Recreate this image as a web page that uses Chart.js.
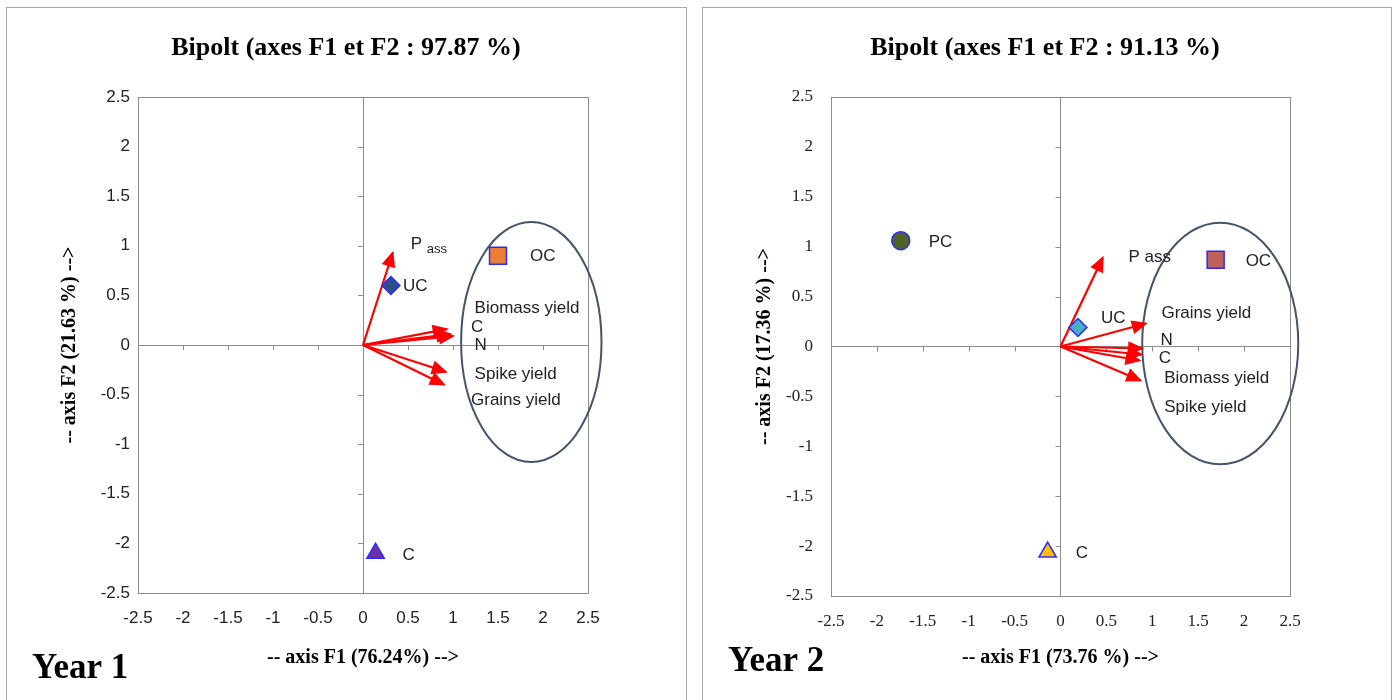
<!DOCTYPE html>
<html>
<head>
<meta charset="utf-8">
<script src="https://cdn.jsdelivr.net/npm/chart.js@4.4.0/dist/chart.umd.min.js"></script>
<style>
  body { margin: 0; background: #fff; width: 1394px; height: 700px; overflow: hidden; position: relative; }
  .frame { position: absolute; top: 7px; height: 730px; border: 1.5px solid #a8a8a8; box-sizing: border-box; }
  canvas { position: absolute; }
</style>
</head>
<body>
<div class="frame" style="left:6px;width:681px"></div>
<div class="frame" style="left:702px;width:690px"></div>
<canvas id="chart1" width="678" height="692" style="left:7px;top:8px"></canvas>
<canvas id="chart2" width="687" height="692" style="left:703px;top:8px"></canvas>
<script>
// shared axis ticks
var axisTicks = [-2.5, -2, -1.5, -1, -0.5, 0, 0.5, 1, 1.5, 2, 2.5];

// Year 1 - observations (F1, F2)
var obs1Names = ["OC", "UC", "C"];
var obs1F1 = [1.5, 0.31, 0.14];
var obs1F2 = [0.9, 0.6, -2.1];
// Year 1 - variables (arrow tips)
var var1Names = ["P ass", "Biomass yield", "C", "N", "Spike yield", "Grains yield"];
var var1F1 = [0.33, 0.93, 1.0, 0.97, 0.92, 0.9];
var var1F2 = [0.93, 0.16, 0.09, 0.11, -0.27, -0.4];

// Year 2 - observations
var obs2Names = ["PC", "OC", "UC", "C"];
var obs2F1 = [-1.74, 1.69, 0.19, -0.14];
var obs2F2 = [1.06, 0.87, 0.19, -2.06];
// Year 2 - variables
var var2Names = ["P ass", "Grains yield", "N", "C", "Biomass yield", "Spike yield"];
var var2F1 = [0.46, 0.93, 0.89, 0.88, 0.86, 0.87];
var var2F2 = [0.89, 0.23, -0.02, -0.08, -0.14, -0.34];

var labelFont = "17px 'Liberation Sans'";

// draws title, box, zero-axis tick marks, ellipse, arrow heads and text labels
var biplotDecor = {
  id: "biplotDecor",
  beforeDatasetsDraw: function (chart, args, c) {
    var ctx = chart.ctx, a = chart.chartArea, x = chart.scales.x, y = chart.scales.y;
    ctx.save();
    ctx.font = "bold 26px 'Liberation Serif'";
    ctx.fillStyle = "#000";
    ctx.textAlign = "center";
    ctx.textBaseline = "middle";
    ctx.fillText(c.title, c.titleX, 40);

    ctx.strokeStyle = "#8c8c8c";
    ctx.lineWidth = 1;
    ctx.strokeRect(Math.round(a.left) + 0.5, Math.round(a.top) + 0.5, Math.round(a.width), Math.round(a.height));
    var x0 = x.getPixelForValue(0), y0 = y.getPixelForValue(0);
    ctx.beginPath();
    axisTicks.forEach(function (v) {
      if (v === 0) return;
      var py = Math.round(y.getPixelForValue(v)) + 0.5;
      ctx.moveTo(x0 - 5, py); ctx.lineTo(x0, py);
      var px = Math.round(x.getPixelForValue(v)) + 0.5;
      ctx.moveTo(px, y0); ctx.lineTo(px, y0 + 5);
    });
    ctx.stroke();

    var e = c.ellipse;
    var ex = x.getPixelForValue(e.cx), ey = y.getPixelForValue(e.cy);
    ctx.beginPath();
    ctx.ellipse(ex, ey, Math.abs(x.getPixelForValue(e.cx + e.rx) - ex), Math.abs(y.getPixelForValue(e.cy + e.ry) - ey), 0, 0, Math.PI * 2);
    ctx.strokeStyle = "#44546a";
    ctx.lineWidth = 2;
    ctx.stroke();
    ctx.restore();
  },
  afterDatasetsDraw: function (chart, args, c) {
    var ctx = chart.ctx, x = chart.scales.x, y = chart.scales.y;
    ctx.save();
    chart.data.datasets.forEach(function (ds, i) {
      var pts = chart.getDatasetMeta(i).data;
      if (ds.isArrow) {
        var p0 = pts[0], p1 = pts[1];
        var ang = Math.atan2(p1.y - p0.y, p1.x - p0.x);
        ctx.save();
        ctx.translate(p1.x, p1.y);
        ctx.rotate(ang);
        ctx.beginPath();
        ctx.moveTo(2, 0);
        ctx.lineTo(-14, -7);
        ctx.lineTo(-14, 7);
        ctx.closePath();
        ctx.fillStyle = "#ff0000";
        ctx.fill();
        ctx.restore();
      } else if (ds.labelDx) {
        ctx.font = labelFont;
        ctx.fillStyle = "#222";
        ctx.textAlign = "left";
        ctx.textBaseline = "middle";
        ctx.fillText(ds.label, pts[0].x + ds.labelDx, pts[0].y + ds.labelDy);
      }
    });
    // variable labels
    c.varLabels.forEach(function (l) {
      var px = x.getPixelForValue(l.x), py = y.getPixelForValue(l.y);
      ctx.font = labelFont;
      ctx.fillStyle = "#222";
      ctx.textAlign = "left";
      ctx.textBaseline = "middle";
      ctx.fillText(l.text, px, py);
      if (l.sub) {
        var w = ctx.measureText(l.text + " ").width;
        ctx.font = "13px 'Liberation Sans'";
        ctx.fillText(l.sub, px + w, py + 5);
      }
    });
    ctx.font = "bold 35px 'Liberation Serif'";
    ctx.fillStyle = "#000";
    ctx.textAlign = "left";
    ctx.textBaseline = "middle";
    ctx.fillText(c.year, c.yearX, c.yearY);
    ctx.restore();
  }
};

function makeChart(id, c) {
  var datasets = [];
  c.obsNames.forEach(function (n, i) {
    datasets.push({
      label: n,
      data: [{ x: c.obsF1[i], y: c.obsF2[i] }],
      pointStyle: c.obsStyle[i],
      pointRadius: c.obsSize[i],
      backgroundColor: c.obsColor[i],
      borderColor: "#2b2bff",
      borderWidth: 1.5,
      labelDx: c.obsDx[i],
      labelDy: c.obsDy[i]
    });
  });
  c.varNames.forEach(function (n, i) {
    datasets.push({
      label: n,
      isArrow: true,
      data: [{ x: 0, y: 0 }, { x: c.varF1[i], y: c.varF2[i] }],
      showLine: true,
      borderColor: "#ff0000",
      borderWidth: 2.2,
      pointRadius: 0
    });
  });

  var tickFmt = function (v) { return String(Math.round(v * 10) / 10); };
  var zeroGrid = function (ctx) { return ctx.tick && ctx.tick.value === 0 ? "#8c8c8c" : "rgba(0,0,0,0)"; };
  var setTicks = function (s) { s.ticks = axisTicks.map(function (v) { return { value: v }; }); };
  var axisTitleFont = { family: "'Liberation Serif'", size: 20, weight: "bold" };

  return new Chart(document.getElementById(id).getContext("2d"), {
    type: "scatter",
    data: { datasets: datasets },
    plugins: [biplotDecor],
    options: {
      responsive: false,
      animation: false,
      layout: { padding: { left: 0, right: c.padRight, top: 89, bottom: 0 } },
      plugins: {
        legend: { display: false },
        tooltip: { enabled: false },
        title: { display: false },
        biplotDecor: c
      },
      scales: {
        x: {
          type: "linear",
          min: -2.5,
          max: 2.5,
          afterBuildTicks: setTicks,
          afterFit: function (s) { s.height = c.xH; },
          grid: { color: zeroGrid, drawTicks: false },
          border: { display: false },
          ticks: { font: c.tickFont, color: "#222", padding: c.xPad, callback: tickFmt },
          title: { display: true, text: c.xTitle, color: "#000", font: axisTitleFont, padding: { top: 0, bottom: 30 } }
        },
        y: {
          type: "linear",
          min: -2.5,
          max: 2.5,
          afterBuildTicks: setTicks,
          afterFit: function (s) { s.width = c.yW; },
          grid: { color: zeroGrid, drawTicks: false },
          border: { display: false },
          ticks: { font: c.tickFont, color: "#222", padding: c.yPad, callback: tickFmt },
          title: { display: true, text: c.yTitle, color: "#000", font: axisTitleFont, padding: { top: c.yTitlePad, bottom: 0 } }
        }
      }
    }
  });
}

makeChart("chart1", {
  title: "Bipolt (axes F1 et F2 : 97.87 %)", titleX: 339,
  xTitle: "-- axis F1 (76.24%) -->",
  yTitle: "-- axis F2 (21.63 %) -->",
  year: "Year 1", yearX: 25, yearY: 661,
  obsNames: obs1Names, obsF1: obs1F1, obsF2: obs1F2,
  obsStyle: ["rect", "rectRot", "triangle"],
  obsSize: [12, 9, 10],
  obsColor: ["#ed7d31", "#2f4d8c", "#7030a0"],
  obsDx: [32, 12, 27],
  obsDy: [1, 1, 2],
  varNames: var1Names, varF1: var1F1, varF2: var1F2,
  varLabels: [
    { text: "P", sub: "ass", x: 0.53, y: 1.01 },
    { text: "Biomass yield", x: 1.24, y: 0.37 },
    { text: "C", x: 1.2, y: 0.18 },
    { text: "N", x: 1.24, y: 0.0 },
    { text: "Spike yield", x: 1.24, y: -0.3 },
    { text: "Grains yield", x: 1.2, y: -0.56 }
  ],
  ellipse: { cx: 1.87, cy: 0.03, rx: 0.78, ry: 1.21 },
  tickFont: { family: "'Liberation Sans'", size: 17 },
  padRight: 97, xH: 107, yW: 131, xPad: 15, yPad: 8, yTitlePad: 51
});

makeChart("chart2", {
  title: "Bipolt (axes F1 et F2 : 91.13 %)", titleX: 342,
  xTitle: "-- axis F1 (73.76 %) -->",
  yTitle: "-- axis F2 (17.36 %) -->",
  year: "Year 2", yearX: 25, yearY: 654,
  obsNames: obs2Names, obsF1: obs2F1, obsF2: obs2F2,
  obsStyle: ["circle", "rect", "rectRot", "triangle"],
  obsSize: [9, 12, 9, 10],
  obsColor: ["#4f6228", "#c0605a", "#4bacc6", "#ffc000"],
  obsDx: [28, 30, 23, 28],
  obsDy: [2, 2, -9, 1],
  varNames: var2Names, varF1: var2F1, varF2: var2F2,
  varLabels: [
    { text: "P ass", x: 0.74, y: 0.89 },
    { text: "Grains yield", x: 1.1, y: 0.33 },
    { text: "N", x: 1.09, y: 0.06 },
    { text: "C", x: 1.07, y: -0.12 },
    { text: "Biomass yield", x: 1.13, y: -0.32 },
    { text: "Spike yield", x: 1.13, y: -0.61 }
  ],
  ellipse: { cx: 1.74, cy: 0.03, rx: 0.85, ry: 1.21 },
  tickFont: { family: "'Liberation Serif'", size: 17 },
  padRight: 100, xH: 104, yW: 128, xPad: 15, yPad: 18, yTitlePad: 50
});
</script>
</body>
</html>
